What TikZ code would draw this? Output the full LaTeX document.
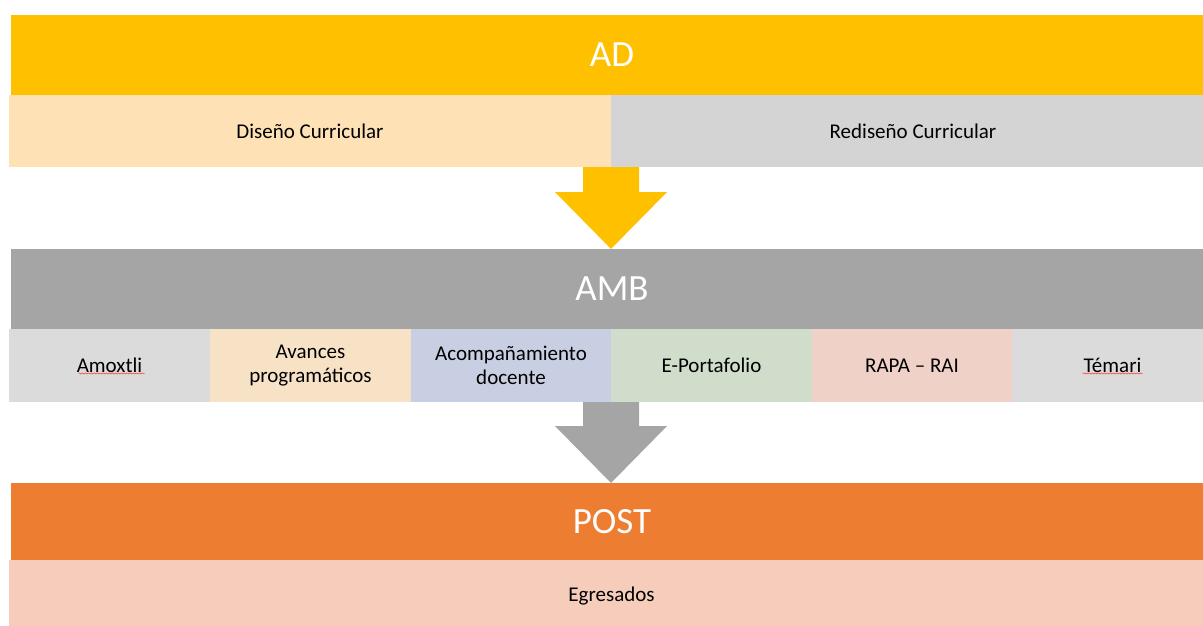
\documentclass[tikz,border=0pt]{standalone}
\usepackage{fontspec}
\setmainfont{Carlito}
\usetikzlibrary{calc,decorations.pathmorphing}
\definecolor{adyellow}{HTML}{FFC000}
\definecolor{adlight}{HTML}{FEE1B5}
\definecolor{greylight}{HTML}{D4D4D4}
\definecolor{ambgrey}{HTML}{A5A5A5}
\definecolor{amoxgrey}{HTML}{DBDBDB}
\definecolor{avancescol}{HTML}{F7E2C6}
\definecolor{acompcol}{HTML}{C9CFE3}
\definecolor{portcol}{HTML}{D0DDCB}
\definecolor{rapacol}{HTML}{F0D1C7}
\definecolor{postorange}{HTML}{ED7D31}
\definecolor{egrecol}{HTML}{F6CCBB}
\tikzset{
  bar/.style={rectangle, inner sep=0pt, outer sep=0pt, minimum width=1202pt, minimum height=80pt, text=white, font=\fontsize{37}{40}\selectfont},
  cell/.style={rectangle, inner sep=0pt, outer sep=0pt, minimum height=73pt, align=center, font=\fontsize{21}{24}\selectfont},
  spell/.style={draw=red!80, line width=0.5pt, decorate, decoration={snake, amplitude=0.6pt, segment length=3pt}}
}
\newcommand{\blockarrow}[3]{\fill[#3] ($(#1)+(-28,0)$) -- ($(#1)+(28,0)$) -- ($(#2)+(28,-57)$) -- ($(#2)+(56,-57)$) -- (#2) -- ($(#2)+(-56,-57)$) -- ($(#2)+(-28,-57)$) -- cycle;}

\begin{document}
\begin{tikzpicture}[x=1pt, y=-1pt]
		%%%%% START %%%%%
		\useasboundingbox (0,0) rectangle (1203,626);
		\clip (0,0) rectangle (1203,626);
		
		% AD
		\node[bar, fill=adyellow] (ad) at (612,55) {AD};
		\node[cell, fill=adlight, minimum width=602pt, minimum height=72pt] (dis) at (310,131) {Diseño Curricular};
		\node[cell, fill=greylight, minimum width=604pt, minimum height=72pt] (redis) at (913,131) {Rediseño Curricular};
		
		% AMB
		\node[bar, fill=ambgrey] (amb) at (612,289) {AMB};
		\node[cell, fill=amoxgrey, minimum width=201pt] (amox) at (109.5,365.5) {Amoxtli};
		\node[cell, fill=avancescol, minimum width=201pt] (avan) at (310.5,365.5) {Avances\\programáticos};
		\node[cell, fill=acompcol, minimum width=200pt] (acomp) at (511,365.5) {Acompañamiento\\docente};
		\node[cell, fill=portcol, minimum width=201pt] (port) at (711.5,365.5) {E-Portafolio};
		\node[cell, fill=rapacol, minimum width=200pt] (rapa) at (912,365.5) {RAPA -- RAI};
		\node[cell, fill=amoxgrey, minimum width=201pt] (temari) at (1112.5,365.5) {Témari};
		\draw[spell] ($(amox.center)+(-31,8)$) -- ++(66,0);
		\draw[spell] ($(temari.center)+(-30,8)$) -- ++(60,0);
		
		% POST
		\node[bar, fill=postorange, minimum height=77pt] (post) at (612,521.5) {POST};
		\node[cell, fill=egrecol, minimum width=1205pt] (egre) at (611.5,596.5) {Egresados};
		
		% arrows
		\coordinate (tipa) at (dis.south east |- amb.north);
		\coordinate (tipb) at (acomp.south east |- post.north);
		\blockarrow{dis.south east}{tipa}{adyellow}
		\blockarrow{acomp.south east}{tipb}{ambgrey}
		%%%%% END %%%%%
\end{tikzpicture}
\end{document}
